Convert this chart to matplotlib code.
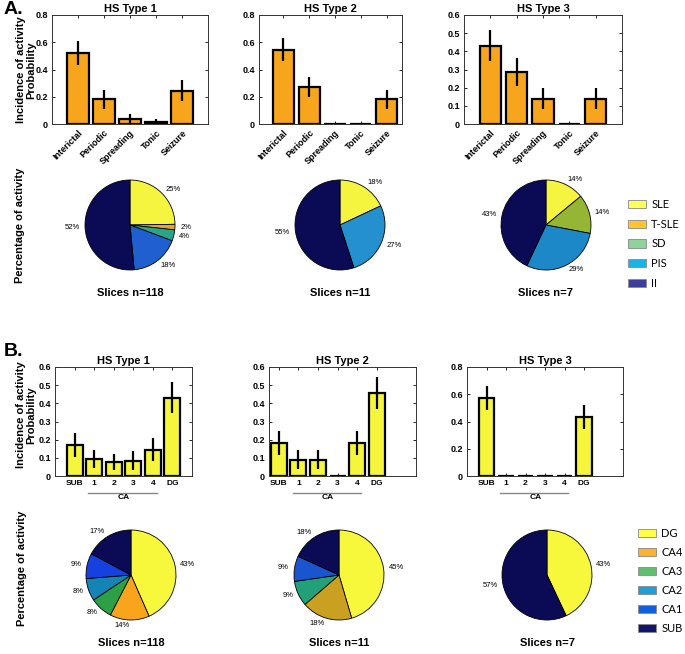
import numpy as np
import matplotlib
matplotlib.use('Agg')
import matplotlib.pyplot as plt
from matplotlib.patches import Patch

plt.rcParams['font.family'] = ['Liberation Sans', 'DejaVu Sans']

# activity type incidence (panel A)
act_labels = ['Interictal', 'Periodic', 'Spreading', 'Tonic', 'Seizure']
act_t1 = [0.52, 0.18, 0.04, 0.017, 0.245]
act_t1_err = [0.09, 0.07, 0.03, 0.02, 0.075]
act_t2 = [0.545, 0.27, 0, 0, 0.18]
act_t2_err = [0.085, 0.075, 0, 0, 0.07]
act_t3 = [0.43, 0.285, 0.14, 0, 0.14]
act_t3_err = [0.085, 0.078, 0.06, 0, 0.06]

# region incidence (panel B)
reg_labels = ['SUB', '1', '2', '3', '4', 'DG']
reg_t1 = [0.17, 0.095, 0.078, 0.085, 0.145, 0.43]
reg_t1_err = [0.067, 0.05, 0.045, 0.05, 0.062, 0.085]
reg_t2 = [0.18, 0.09, 0.09, 0, 0.18, 0.455]
reg_t2_err = [0.065, 0.052, 0.052, 0, 0.065, 0.088]
reg_t3 = [0.57, 0, 0, 0, 0, 0.43]
reg_t3_err = [0.088, 0, 0, 0, 0, 0.088]

# pie charts, percentage of activity
pie_a1 = [25, 2, 4, 18, 52]
pie_a2 = [18, 27, 55]
pie_a3 = [14, 14, 29, 43]
pie_b1 = [43, 14, 8, 8, 9, 17]
pie_b2 = [45, 18, 9, 9, 18]
pie_b3 = [43, 57]
slices_n = ['Slices n=118', 'Slices n=11', 'Slices n=7']

legend_a = ['SLE', 'T-SLE', 'SD', 'PIS', 'II']
legend_b = ['DG', 'CA4', 'CA3', 'CA2', 'CA1', 'SUB']

# colours
orange = '#f7a51d'
yellow = '#f5f53c'
navy = '#0b0b55'
cols_a1 = ['#f5f53f', '#e0a830', '#2aa588', '#1f5fd0', navy]
cols_a2 = ['#f5f53f', '#2590d0', navy]
cols_a3 = ['#f5f53f', '#95b535', '#1c88c8', navy]
cols_b1 = ['#f7f73c', '#f8a51c', '#2ba045', '#1683b5', '#1640e0', navy]
cols_b2 = ['#f7f73c', '#c9a020', '#22a078', '#1a55d0', navy]
cols_b3 = ['#f7f73c', navy]
leg_cols_a = ['#ffff55', '#ffc52a', '#8ed49a', '#19b4e6', '#3d3d9e']
leg_cols_b = ['#ffff44', '#ffb12a', '#5fbf6f', '#1d9fd8', '#1160e0', '#151570']

W, H = 685, 654
fig = plt.figure(figsize=(W / 100, H / 100), dpi=100)


def px_axes(l, t, r, b):
    return fig.add_axes([l / W, 1 - b / H, (r - l) / W, (b - t) / H])


def bar_panel(ax, vals, errs, labels, color, ymax, ystep, xlim, title, rot):
    x = np.arange(1, len(vals) + 1)
    ax.bar(x, vals, width=0.82, color=color, edgecolor='black', linewidth=1.6, zorder=2)
    ax.errorbar(x, vals, yerr=errs, fmt='none', ecolor='black', elinewidth=1.6,
                capsize=0, zorder=3)
    ax.set_xlim(*xlim)
    ax.set_ylim(0, ymax)
    ticks = np.arange(0, ymax + 1e-9, ystep)
    ax.set_yticks(ticks)
    ax.set_yticklabels(['%g' % v for v in ticks], fontsize=6.5, fontweight='bold')
    ax.set_xticks(x)
    if rot:
        ax.set_xticklabels(labels, rotation=45, ha='right', rotation_mode='anchor',
                           fontsize=6.5, fontweight='bold')
    else:
        ax.set_xticklabels(labels, fontsize=6, fontweight='bold')
    ax.tick_params(direction='in', length=2, width=0.6, top=True, right=True, pad=3)
    for s in ax.spines.values():
        s.set_linewidth(0.7)
        s.set_color('#333333')
    ax.set_title(title, fontsize=8, fontweight='bold', pad=2)


def pie_panel(cx, cy, vals, cols, n_text):
    r = 45
    ax = px_axes(cx - r, cy - r, cx + r, cy + r)
    labels = ['%d%%' % v for v in vals]
    ax.pie(vals, colors=cols, labels=labels, startangle=90, counterclock=False,
           labeldistance=1.12, radius=1,
           wedgeprops={'edgecolor': 'black', 'linewidth': 0.6},
           textprops={'fontsize': 5.5})
    ax.set_xlim(-1, 1)
    ax.set_ylim(-1, 1)
    ax.set_aspect('equal')
    fig.text(cx / W, 1 - (cy + 68) / H, n_text, ha='center', va='center',
             fontsize=8, fontweight='bold')


# ---- panel A bars ----
ax = px_axes(52, 15, 208, 124)
bar_panel(ax, act_t1, act_t1_err, act_labels, orange, 0.8, 0.2, (0, 6), 'HS Type 1', True)
ax = px_axes(259, 15, 402, 124)
bar_panel(ax, act_t2, act_t2_err, act_labels, orange, 0.8, 0.2, (0.05, 5.6), 'HS Type 2', True)
ax = px_axes(464, 15, 622, 124)
bar_panel(ax, act_t3, act_t3_err, act_labels, orange, 0.6, 0.1, (0, 6), 'HS Type 3', True)

# ---- panel A pies ----
pie_panel(130, 225, pie_a1, cols_a1, slices_n[0])
pie_panel(340, 225, pie_a2, cols_a2, slices_n[1])
pie_panel(546, 225, pie_a3, cols_a3, slices_n[2])

# ---- panel B bars ----
bax = []
ax = px_axes(55, 367, 192, 476)
bar_panel(ax, reg_t1, reg_t1_err, reg_labels, yellow, 0.6, 0.1, (0, 7), 'HS Type 1', False)
bax.append(ax)
ax = px_axes(269, 367, 416, 476)
bar_panel(ax, reg_t2, reg_t2_err, reg_labels, yellow, 0.6, 0.1, (0.5, 8), 'HS Type 2', False)
bax.append(ax)
ax = px_axes(467, 367, 623, 476)
bar_panel(ax, reg_t3, reg_t3_err, reg_labels, yellow, 0.8, 0.2, (0, 8), 'HS Type 3', False)
bax.append(ax)
for ax in bax:
    tr = ax.get_xaxis_transform()
    ax.plot([1.7, 5.2], [-0.155, -0.155], transform=tr, color='#888888', lw=1,
            clip_on=False)
    ax.text(3.5, -0.2, 'CA', transform=tr, ha='center', va='center', fontsize=6,
            fontweight='bold')

# ---- panel B pies ----
pie_panel(131, 575, pie_b1, cols_b1, slices_n[0])
pie_panel(339, 575, pie_b2, cols_b2, slices_n[1])
pie_panel(547, 575, pie_b3, cols_b3, slices_n[2])

# ---- legends ----
hand_a = [Patch(facecolor=c, edgecolor='#888888', linewidth=0.6) for c in leg_cols_a]
fig.legend(hand_a, legend_a, loc='upper left', bbox_to_anchor=(628 / W, 1 - 199 / H),
           frameon=False, handlelength=1.6, handleheight=0.8,
           labelspacing=0.78, handletextpad=0.5, borderpad=0, borderaxespad=0,
           prop={'family': 'Lato', 'size': 8})
hand_b = [Patch(facecolor=c, edgecolor='#888888', linewidth=0.6) for c in leg_cols_b]
fig.legend(hand_b, legend_b, loc='upper left', bbox_to_anchor=(638 / W, 1 - 528 / H),
           frameon=False, handlelength=1.6, handleheight=0.8,
           labelspacing=0.72, handletextpad=0.5, borderpad=0, borderaxespad=0,
           prop={'family': 'Lato', 'size': 8})

# ---- side labels ----
for yc in (70, 415):
    fig.text(26 / W, 1 - yc / H, 'Incidence of activity\nProbability', rotation=90,
             ha='center', va='center', fontsize=8, fontweight='bold', linespacing=1.1)
fig.text(20 / W, 1 - 225 / H, 'Percentage of activity', rotation=90, ha='center',
         va='center', fontsize=8, fontweight='bold')
fig.text(22 / W, 1 - 568 / H, 'Percentage of activity', rotation=90, ha='center',
         va='center', fontsize=8, fontweight='bold')
fig.text(4 / W, 1 - 10 / H, 'A.', fontsize=14, fontweight='bold', va='center')
fig.text(4 / W, 1 - 351 / H, 'B.', fontsize=14, fontweight='bold', va='center')

fig.savefig('out.png', dpi=100)
